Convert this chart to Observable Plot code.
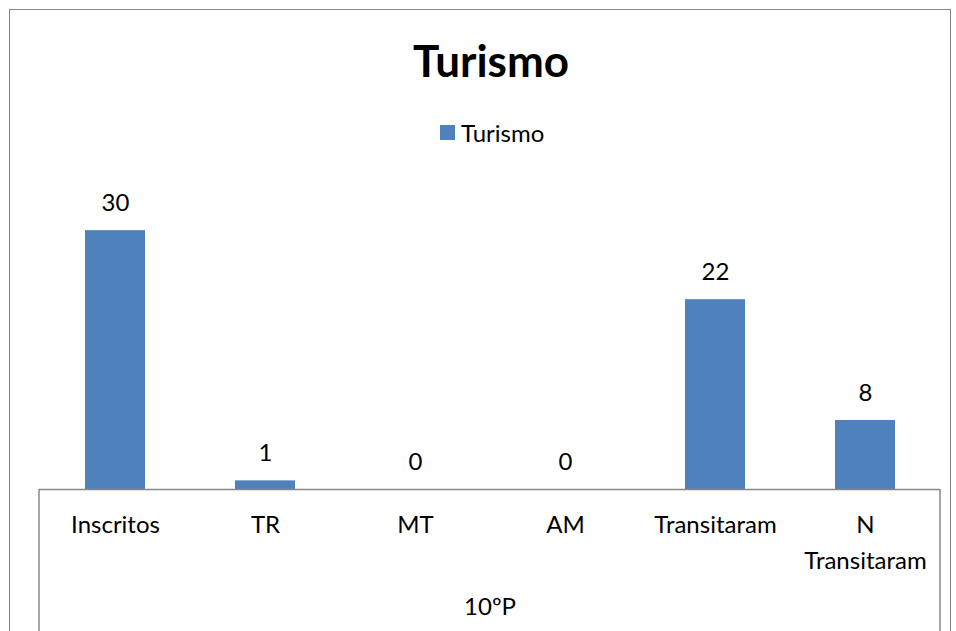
<!DOCTYPE html>
<html>
<head>
<meta charset="utf-8">
<script src="https://cdn.jsdelivr.net/npm/d3@7"></script>
<script src="https://cdn.jsdelivr.net/npm/@observablehq/plot@0.6"></script>
<style>
  html, body { margin: 0; padding: 0; background: #fff; }
  #wrap { position: relative; width: 956px; height: 631px; overflow: hidden; font-family: Lato, "Open Sans", sans-serif; color: #000; }
  #border { position: absolute; left: 9px; top: 9px; width: 942px; height: 700px; border: 1.5px solid #878787; box-sizing: border-box; }
  #header { position: relative; height: 160px; }
  #title { position: absolute; left: 0; width: 982px; top: 38px; text-align: center; font-size: 44px; font-weight: bold; line-height: 1; }
  #legend-swatch { position: absolute; left: 440px; top: 125px; width: 15px; height: 15px; background: #4F81BD; }
  #legend-text { position: absolute; left: 461px; top: 121px; font-size: 24px; line-height: 1; }
  #chart { position: relative; }
  #chart svg { display: block; }
</style>
</head>
<body>
<div id="wrap">
  <div id="border"></div>
  <div id="header">
    <div id="title"></div>
    <div id="legend-swatch"></div>
    <div id="legend-text"></div>
  </div>
  <div id="chart"></div>
</div>
<script>
const chartTitle = "Turismo";
const seriesName = "Turismo";
const categories = ["Inscritos", "TR", "MT", "AM", "Transitaram", "N Transitaram"];
const values = [30, 1, 0, 0, 22, 8];
const tickLabels = ["Inscritos", "TR", "MT", "AM", "Transitaram", "N\nTransitaram"];
const groupLabel = "10ºP";
const yDomain = [0, 35];

document.getElementById("title").textContent = chartTitle;
document.getElementById("legend-text").textContent = seriesName;

const data = categories.map((c, i) => ({category: c, value: values[i], label: tickLabels[i]}));

const edgeLines = (index, scales, vals, dims) => {
  const g = d3.create("svg:g");
  const x1 = dims.marginLeft, x2 = dims.width - dims.marginRight;
  const yb = dims.height - dims.marginBottom;
  for (const x of [x1, x2]) {
    g.append("line").attr("x1", x).attr("x2", x).attr("y1", yb).attr("y2", dims.height)
      .attr("stroke", "#878787").attr("stroke-width", 1.5);
  }
  return g.node();
};

const plot = Plot.plot({
  width: 956,
  height: 471,
  marginTop: 27,
  marginBottom: 142,
  marginLeft: 39,
  marginRight: 16,
  style: {fontFamily: "Lato, 'Open Sans', sans-serif", color: "#000", background: "transparent"},
  x: {domain: categories, paddingInner: 0.6, paddingOuter: 0.3, axis: null},
  y: {domain: yDomain, axis: null},
  marks: [
    Plot.barY(data, {x: "category", y: "value", fill: "#4F81BD"}),
    Plot.ruleY([0], {stroke: "#878787", strokeWidth: 1.5}),
    Plot.text(data, {x: "category", y: "value", text: d => String(d.value), dy: -27.5, fontSize: 24, fill: "#000"}),
    Plot.text(data, {x: "category", y: 0, text: "label", lineAnchor: "top", dy: 18, fontSize: 24, lineHeight: 1.5, fill: "#000"}),
    Plot.text([groupLabel], {frameAnchor: "bottom", dx: 0, dy: 125, text: d => d, fontSize: 24, fill: "#000"}),
    edgeLines
  ]
});
document.getElementById("chart").appendChild(plot);
</script>
</body>
</html>
